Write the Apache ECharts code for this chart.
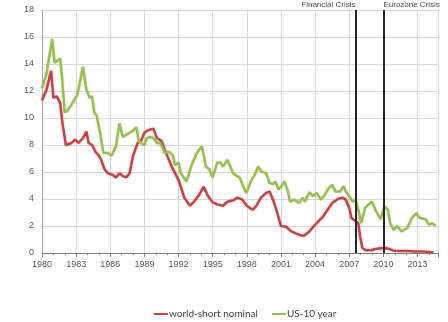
<!DOCTYPE html>
<html><head><meta charset="utf-8">
<script src="https://cdn.jsdelivr.net/npm/echarts@6/dist/echarts.min.js"></script>
<style>html,body{margin:0;padding:0;background:#fff}#c{width:448px;height:322px}</style>
</head><body><div id="c"></div>
<script>
const seriesNames = ['world-short nominal', 'US-10 year'];
const shortYears = [1980.0,1980.4,1980.8,1981.0,1981.3,1981.6,1981.8,1982.1,1982.6,1982.9,1983.2,1983.6,1983.9,1984.1,1984.4,1984.7,1985.0,1985.2,1985.5,1985.8,1986.2,1986.5,1986.8,1987.1,1987.4,1987.7,1988.0,1988.4,1988.7,1989.0,1989.3,1989.8,1990.1,1990.5,1990.9,1991.4,1991.7,1992.0,1992.2,1992.5,1993.0,1993.4,1993.8,1994.2,1994.6,1995.0,1995.4,1995.9,1996.3,1996.8,1997.2,1997.6,1998.0,1998.5,1998.8,1999.25,1999.7,2000.0,2000.3,2000.6,2001.0,2001.45,2001.9,2002.3,2002.75,2003.05,2003.5,2003.9,2004.35,2004.7,2005.1,2005.5,2006.0,2006.4,2006.7,2007.0,2007.2,2007.5,2007.8,2007.95,2008.15,2008.45,2008.9,2009.3,2009.75,2010.2,2010.5,2010.9,2011.5,2012.1,2012.8,2013.55,2014.0,2014.4];
const shortValues = [11.3,12.1,13.5,11.5,11.6,11.1,9.6,8.0,8.15,8.4,8.15,8.5,9.0,8.15,8.0,7.5,7.2,6.9,6.2,5.9,5.8,5.6,5.9,5.7,5.6,5.9,7.2,8.15,8.3,8.9,9.1,9.2,8.5,8.3,7.4,6.4,5.9,5.4,4.9,4.1,3.5,3.85,4.3,4.9,4.2,3.75,3.6,3.5,3.8,3.9,4.1,3.95,3.5,3.2,3.45,4.1,4.45,4.55,3.95,3.2,2.0,1.95,1.6,1.45,1.3,1.3,1.6,2.0,2.4,2.7,3.2,3.7,4.0,4.1,3.95,3.35,2.6,2.4,2.2,1.25,0.37,0.2,0.2,0.3,0.35,0.37,0.3,0.17,0.15,0.15,0.12,0.12,0.08,0.03];
const usYears = [1980.0,1980.4,1980.9,1981.1,1981.3,1981.6,1981.75,1982.0,1982.3,1983.1,1983.6,1983.9,1984.2,1984.4,1984.6,1984.8,1985.1,1985.4,1985.8,1986.1,1986.5,1986.8,1987.1,1987.5,1987.9,1988.3,1988.5,1988.7,1989.0,1989.2,1989.5,1989.8,1990.1,1990.4,1990.8,1991.2,1991.5,1991.7,1992.0,1992.2,1992.7,1993.1,1993.6,1994.05,1994.4,1994.7,1995.0,1995.4,1995.7,1995.9,1996.3,1996.8,1997.4,1997.7,1997.95,1998.4,1998.7,1999.0,1999.25,1999.7,2000.0,2000.3,2000.5,2000.8,2001.0,2001.3,2001.6,2001.8,2002.2,2002.6,2002.9,2003.1,2003.5,2003.8,2004.15,2004.5,2004.85,2005.2,2005.5,2005.8,2006.2,2006.5,2006.7,2007.0,2007.3,2007.55,2007.8,2008.05,2008.4,2008.7,2009.0,2009.3,2009.75,2010.1,2010.4,2010.6,2010.9,2011.2,2011.6,2012.1,2012.5,2012.9,2013.2,2013.7,2014.0,2014.3,2014.6];
const usValues = [12.2,13.3,15.85,14.1,14.2,14.4,13.1,10.4,10.6,11.7,13.8,12.1,11.5,11.6,10.4,10.2,8.9,7.4,7.4,7.2,7.9,9.6,8.6,8.8,9.0,9.3,8.3,8.15,8.0,8.5,8.6,8.5,8.15,8.15,7.4,7.5,7.2,6.5,6.7,5.9,5.3,6.4,7.4,7.9,6.4,6.2,5.6,6.7,6.7,6.4,6.9,5.9,5.55,4.9,4.45,5.4,5.8,6.4,6.05,5.9,5.2,5.1,5.3,4.7,4.9,5.3,4.6,3.8,3.95,3.7,4.1,3.8,4.5,4.2,4.45,3.95,4.3,4.8,5.05,4.55,4.55,4.95,4.55,4.2,3.8,3.95,3.2,2.2,3.35,3.6,3.8,3.2,2.5,3.45,3.2,2.2,1.7,2.0,1.6,1.85,2.6,2.95,2.6,2.5,2.1,2.2,2.0];
const crisisYears = [2007.55, 2010.0];
const crisisLabels = ['Financial Crisis', 'Eurozone Crisis'];
const xMin = 1980, xMax = 2014.8, xStep = 3;
const yMin = 0, yMax = 18, yStep = 2;

function pairs(xs, ys) { return xs.map((x, i) => [x, ys[i]]); }

const chart = echarts.init(document.getElementById('c'), null, {renderer: 'canvas'});
chart.setOption({
  animation: false,
  backgroundColor: '#ffffff',
  grid: {left: 42, right: 10, top: 10, bottom: 69, containLabel: false},
  xAxis: {
    type: 'value', min: xMin, max: xMax, interval: xStep,
    axisLine: {show: true, lineStyle: {color: '#7f7f7f', width: 1}},
    axisTick: {show: true, length: 4, lineStyle: {color: '#7f7f7f'}},
    minorTick: {show: true, splitNumber: 3, length: 2, lineStyle: {color: '#7f7f7f'}},
    splitLine: {show: true, lineStyle: {color: '#d9d9d9', width: 1}},
    axisLabel: {
      color: '#595959', fontSize: 9, fontFamily: 'Liberation Sans, Arial, sans-serif', margin: 7,
      formatter: v => (Math.abs(v - Math.round(v)) < 1e-6 && Math.round(v - xMin) % xStep === 0) ? String(Math.round(v)) : ''
    }
  },
  yAxis: {
    type: 'value', min: yMin, max: yMax, interval: yStep,
    axisLine: {show: true, lineStyle: {color: '#a6a6a6'}},
    axisTick: {show: false},
    splitLine: {show: true, lineStyle: {color: '#d9d9d9', width: 1}},
    axisLabel: {color: '#595959', fontSize: 9, fontFamily: 'Liberation Sans, Arial, sans-serif', margin: 8}
  },
  legend: {
    top: 304, left: 149, itemWidth: 14, itemHeight: 2, itemGap: 14, icon: 'rect',
    textStyle: {color: '#404040', fontSize: 10, fontFamily: 'Lato, sans-serif', padding: [0, 0, 0, -4]},
    data: seriesNames
  },
  series: [
    {
      name: seriesNames[0], type: 'line', symbol: 'none', data: pairs(shortYears, shortValues),
      color: '#b9484b',
      lineStyle: {width: 2.5, color: '#b9484b', shadowColor: 'rgba(192,80,77,0.35)', shadowBlur: 3},
      markLine: {
        silent: true, symbol: 'none', animation: false,
        lineStyle: {color: '#262626', width: 2, type: 'solid'},
        label: {position: 'end', distance: 1, fontSize: 8, color: '#4d4d4d', fontFamily: 'Liberation Sans, Arial, sans-serif'},
        data: crisisYears.map((yr, i) => ({
          xAxis: yr,
          label: {formatter: crisisLabels[i], align: i === 0 ? 'right' : 'left'}
        }))
      }
    },
    {
      name: seriesNames[1], type: 'line', symbol: 'none', data: pairs(usYears, usValues),
      color: '#9bbb59',
      lineStyle: {width: 2.5, color: '#9bbb59', shadowColor: 'rgba(155,187,89,0.35)', shadowBlur: 3}
    }
  ]
});
</script></body></html>
